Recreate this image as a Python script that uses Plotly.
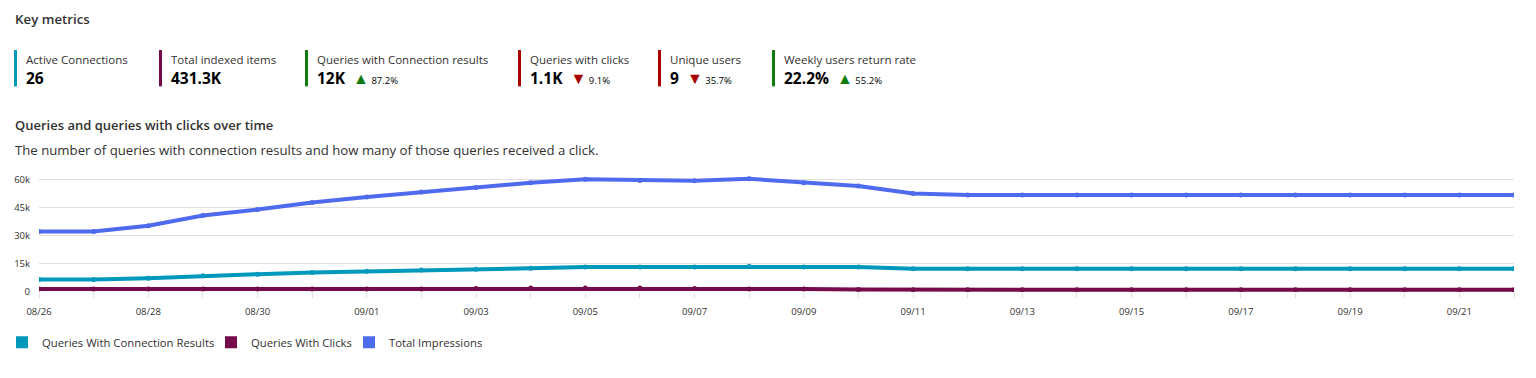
import plotly.graph_objects as go
import pandas as pd

# ---------------- data ----------------
dates = pd.date_range("2023-08-26", "2023-09-22", freq="D")

conn_results = [6700, 6700, 7400, 8700, 9500, 10400, 11100, 11700, 12200, 12700,
                13300, 13300, 13400, 13800, 13400, 13300, 12400, 12400, 12400, 12400,
                12400, 12400, 12400, 12400, 12400, 12400, 12400, 12400]
clicks = [1600, 1600, 1600, 1600, 1600, 1600, 1600, 1600, 1900, 2100,
          2100, 2100, 1900, 1600, 1600, 1400, 1200, 1200, 1200, 1200,
          1200, 1200, 1200, 1200, 1200, 1200, 1200, 1200]
impressions = [32400, 32400, 35400, 40900, 44100, 47800, 50800, 53400, 55800, 58400,
               60200, 59600, 59500, 60500, 58400, 56600, 52600, 51800, 51800, 51800,
               51800, 51800, 51800, 51800, 51800, 51800, 51800, 51800]

series_names = ["Queries With Connection Results", "Queries With Clicks", "Total Impressions"]
series_values = [conn_results, clicks, impressions]
series_colors = ["#0099BC", "#750B4B", "#4F6BED"]

metric_labels = ["Active Connections", "Total indexed items", "Queries with Connection results",
                 "Queries with clicks", "Unique users", "Weekly users return rate"]
metric_values = ["26", "431.3K", "12K", "1.1K", "9", "22.2%"]
metric_changes = ["", "", "87.2%", "9.1%", "35.7%", "55.2%"]
metric_dirs = [None, None, "up", "down", "down", "up"]
metric_colors = ["#0099BC", "#750B4B", "#107C10", "#A80000", "#A80000", "#107C10"]

# ---------------- layout geometry ----------------
W, H = 1536, 378
L, R = 39, 1536 - 1514
Y0_PX, YMAX = 292.3, 62000
PX_PER_UNIT = (292.3 - 179.3) / 60000
TOP = Y0_PX - YMAX * PX_PER_UNIT
B = H - Y0_PX
PW = W - L - R
PH = Y0_PX - TOP

def px(x):
    return (x - L) / PW

def py(y):
    return (Y0_PX - y) / PH

FONT = "Open Sans, Segoe UI, sans-serif"
TXT = "#323130"

legend_ids = ["legend", "legend2", "legend3"]
legend_px = [2, 211, 349]

fig = go.Figure()
for name, vals, col, lid in zip(series_names, series_values, series_colors, legend_ids):
    fig.add_trace(go.Scatter(
        x=dates, y=vals, mode="lines+markers", name=name,
        line=dict(color=col, width=4), marker=dict(color=col, size=5),
        showlegend=False, hovertemplate="%{y}<extra>" + name + "</extra>"))
    fig.add_trace(go.Scatter(
        x=[None], y=[None], mode="markers", name=name, legend=lid,
        marker=dict(color=col, size=12, symbol="square"), showlegend=True))

annotations = []
shapes = []

annotations.append(dict(text="Key metrics", x=px(13), y=py(17), xref="paper", yref="paper",
                        xanchor="left", yanchor="middle", showarrow=False,
                        font=dict(family=FONT, size=13.3, color=TXT, weight=600)))

bar_x = [14, 159, 305, 518, 658, 772]
for bx, lab, val, ch, d, col in zip(bar_x, metric_labels, metric_values, metric_changes, metric_dirs, metric_colors):
    shapes.append(dict(type="rect", xref="paper", yref="paper",
                       x0=px(bx), x1=px(bx + 3), y0=py(85.3), y1=py(48.7),
                       fillcolor=col, line=dict(width=0)))
    annotations.append(dict(text=lab, x=px(bx + 10), y=py(58), xref="paper", yref="paper",
                            xanchor="left", yanchor="middle", showarrow=False,
                            font=dict(family=FONT, size=11.5, color=TXT)))
    t = "<b>" + val + "</b>"
    if d:
        tri = "▲" if d == "up" else "▼"
        tcol = "#107C10" if d == "up" else "#A80000"
        t += "  <span style='color:%s;font-size:16px'>%s</span><span style='font-size:9.5px'> %s</span>" % (tcol, tri, ch)
    annotations.append(dict(text=t, x=px(bx + 10), y=py(76.5), xref="paper", yref="paper",
                            xanchor="left", yanchor="middle", showarrow=False,
                            font=dict(family=FONT, size=15.5, color="#000000")))

annotations.append(dict(text="Queries and queries with clicks over time", x=px(13), y=py(124),
                        xref="paper", yref="paper", xanchor="left", yanchor="middle", showarrow=False,
                        font=dict(family=FONT, size=13, color=TXT, weight=600)))
annotations.append(dict(text="The number of queries with connection results and how many of those queries received a click.",
                        x=px(13), y=py(149), xref="paper", yref="paper", xanchor="left", yanchor="middle",
                        showarrow=False, font=dict(family=FONT, size=13.2, color=TXT)))

legend_common = dict(orientation="h", xanchor="left", y=py(343), yanchor="middle",
                     font=dict(family=FONT, size=11.3, color=TXT), itemclick=False,
                     bgcolor="rgba(0,0,0,0)", tracegroupgap=0)

fig.update_layout(
    width=W, height=H,
    margin=dict(l=L, r=R, t=TOP, b=B, pad=0, autoexpand=False),
    paper_bgcolor="white", plot_bgcolor="white",
    font=dict(family=FONT, color=TXT),
    annotations=annotations, shapes=shapes,
    legend=dict(x=px(legend_px[0]), **legend_common),
    legend2=dict(x=px(legend_px[1]), **legend_common),
    legend3=dict(x=px(legend_px[2]), **legend_common),
    xaxis=dict(type="date", range=[dates[0], dates[-1]], tickformat="%m/%d",
               tick0=dates[0], dtick=2 * 86400000, ticks="outside", ticklen=5,
               tickcolor="#e1dfdd", showgrid=False, showline=False, zeroline=False,
               ticklabelstandoff=6, automargin=False,
               tickfont=dict(family=FONT, size=9.5, color=TXT),
               minor=dict(dtick=86400000, ticks="outside", ticklen=5, tickcolor="#e1dfdd", showgrid=False)),
    yaxis=dict(range=[0, YMAX], dtick=15000, tick0=0, tickformat="~s",
               showgrid=True, gridcolor="#e1dfdd", gridwidth=1, zeroline=False,
               showline=False, ticks="", ticklabelstandoff=8, automargin=False,
               tickfont=dict(family=FONT, size=9.5, color=TXT)),
)

fig.write_html("out.html", config={"displayModeBar": False},
               post_script="document.body.style.margin='0';document.body.style.padding='0';")
